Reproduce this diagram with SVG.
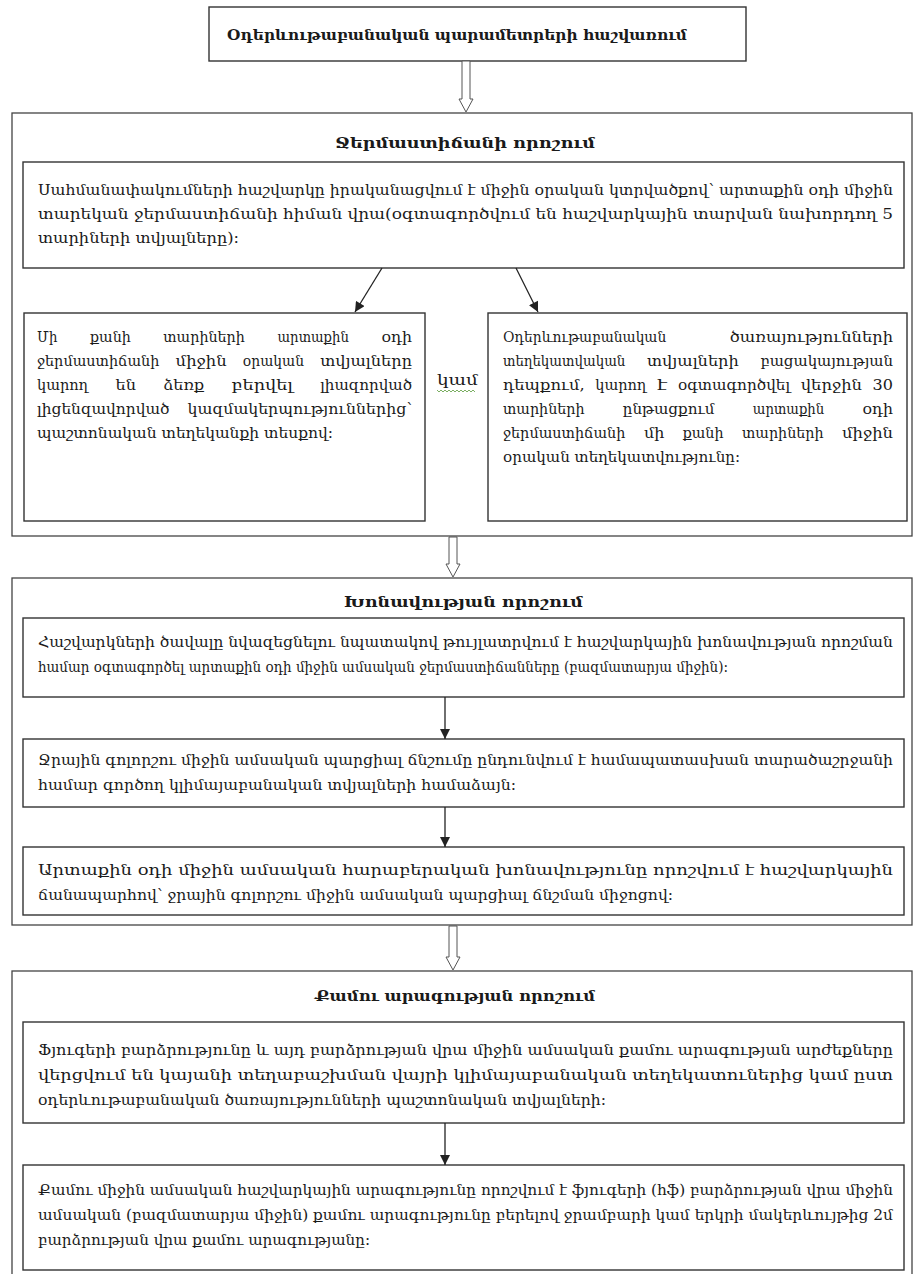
<svg xmlns="http://www.w3.org/2000/svg" width="914" height="1274" viewBox="0 0 914 1274">
<defs>
<style>
.box{fill:#fff;stroke:#333;stroke-width:1.4}
.outer{fill:none;stroke:#444;stroke-width:1.3}
.t{font-family:'DejaVu Serif','DejaVu Sans',serif;font-size:15px;fill:#1a1a1a}
.h{font-weight:bold;font-size:15.5px}
.hollow{fill:#fff;stroke:#555;stroke-width:1}
.ln{stroke:#222;stroke-width:1.3;fill:none;marker-end:url(#ah)}
</style>
<marker id="ah" viewBox="0 0 10 10" refX="10" refY="5" markerWidth="11" markerHeight="10" orient="auto" markerUnits="userSpaceOnUse">
<path d="M0,0 L10,5 L0,10 z" fill="#222"/>
</marker>
</defs>
<rect width="914" height="1274" fill="#fff"/>

<g id="title">
<rect class="box" x="209" y="7" width="537" height="54"/>
<text class="t h" x="227" y="40" textLength="460" lengthAdjust="spacingAndGlyphs">Օդերևութաբանական պարամետրերի հաշվառում</text>
</g>

<g id="section-temperature">
<rect class="outer" x="12" y="113" width="900" height="423"/>
<text class="t h" x="335" y="148" textLength="260" lengthAdjust="spacingAndGlyphs">Ջերմաստիճանի որոշում</text>
</g>

<g id="temp-main">
<rect class="box" x="23" y="162" width="881" height="106"/>
<text class="t" x="38" y="195" textLength="855" lengthAdjust="spacingAndGlyphs">Սահմանափակումների հաշվարկը իրականացվում է միջին օրական կտրվածքով՝ արտաքին օդի միջին</text>
<text class="t" x="38" y="219" textLength="855" lengthAdjust="spacingAndGlyphs">տարեկան ջերմաստիճանի հիման վրա(օգտագործվում են հաշվարկային տարվան նախորդող 5</text>
<text class="t" x="38" y="243" textLength="201" lengthAdjust="spacingAndGlyphs">տարիների տվյալները):</text>
</g>

<g id="temp-left">
<rect class="box" x="24" y="313" width="401" height="208"/>
<text class="t" x="37" y="342" textLength="20.4" lengthAdjust="spacingAndGlyphs">Մի</text>
<text class="t" x="90" y="342" textLength="40.8" lengthAdjust="spacingAndGlyphs">քանի</text>
<text class="t" x="163.3" y="342" textLength="81.6" lengthAdjust="spacingAndGlyphs">տարիների</text>
<text class="t" x="277.5" y="342" textLength="71.4" lengthAdjust="spacingAndGlyphs">արտաքին</text>
<text class="t" x="381.4" y="342" textLength="30.6" lengthAdjust="spacingAndGlyphs">օդի</text>
<text class="t" x="37" y="366" textLength="122.4" lengthAdjust="spacingAndGlyphs">ջերմաստիճանի</text>
<text class="t" x="175.6" y="366" textLength="51" lengthAdjust="spacingAndGlyphs">միջին</text>
<text class="t" x="242.8" y="366" textLength="61.2" lengthAdjust="spacingAndGlyphs">օրական</text>
<text class="t" x="320.2" y="366" textLength="91.8" lengthAdjust="spacingAndGlyphs">տվյալները</text>
<text class="t" x="37" y="390" textLength="51" lengthAdjust="spacingAndGlyphs">կարող</text>
<text class="t" x="115.5" y="390" textLength="20.4" lengthAdjust="spacingAndGlyphs">են</text>
<text class="t" x="163.3" y="390" textLength="40.8" lengthAdjust="spacingAndGlyphs">ձեռք</text>
<text class="t" x="231.6" y="390" textLength="61.2" lengthAdjust="spacingAndGlyphs">բերվել</text>
<text class="t" x="320.2" y="390" textLength="91.8" lengthAdjust="spacingAndGlyphs">լիազորված</text>
<text class="t" x="37" y="414" textLength="132.6" lengthAdjust="spacingAndGlyphs">լիցենզավորված</text>
<text class="t" x="187.6" y="414" textLength="224.4" lengthAdjust="spacingAndGlyphs">կազմակերպություններից՝</text>
<text class="t" x="37" y="438" textLength="296" lengthAdjust="spacingAndGlyphs">պաշտոնական տեղեկանքի տեսքով:</text>
</g>

<g id="or-label">
<text class="t" x="437" y="385" textLength="41" lengthAdjust="spacingAndGlyphs">կամ</text>
<path d="M437,390 l2,2 l2,-2 l2,2 l2,-2 l2,2 l2,-2 l2,2 l2,-2 l2,2 l2,-2 l2,2 l2,-2 l2,2 l2,-2 l2,2 l2,-2 l2,2 l2,-2 l2,2" fill="none" stroke="#5b9b3b" stroke-width="0.8"/>
</g>

<g id="temp-right">
<rect class="box" x="488" y="313" width="419" height="208"/>
<text class="t" x="503" y="342" textLength="163.2" lengthAdjust="spacingAndGlyphs">Օդերևութաբանական</text>
<text class="t" x="729.8" y="342" textLength="163.2" lengthAdjust="spacingAndGlyphs">ծառայությունների</text>
<text class="t" x="503" y="366" textLength="122.4" lengthAdjust="spacingAndGlyphs">տեղեկատվական</text>
<text class="t" x="647" y="366" textLength="91.8" lengthAdjust="spacingAndGlyphs">տվյալների</text>
<text class="t" x="760.4" y="366" textLength="132.6" lengthAdjust="spacingAndGlyphs">բացակայության</text>
<text class="t" x="503" y="390" textLength="81.6" lengthAdjust="spacingAndGlyphs">դեպքում,</text>
<text class="t" x="595.3" y="390" textLength="51" lengthAdjust="spacingAndGlyphs">կարող</text>
<text class="t" x="657" y="390" textLength="10.2" lengthAdjust="spacingAndGlyphs">է</text>
<text class="t" x="677.9" y="390" textLength="112.2" lengthAdjust="spacingAndGlyphs">օգտագործվել</text>
<text class="t" x="800.8" y="390" textLength="61.2" lengthAdjust="spacingAndGlyphs">վերջին</text>
<text class="t" x="872.6" y="390" textLength="20.4" lengthAdjust="spacingAndGlyphs">30</text>
<text class="t" x="503" y="414" textLength="81.6" lengthAdjust="spacingAndGlyphs">տարիների</text>
<text class="t" x="622.8" y="414" textLength="91.8" lengthAdjust="spacingAndGlyphs">ընթացքում</text>
<text class="t" x="752.8" y="414" textLength="71.4" lengthAdjust="spacingAndGlyphs">արտաքին</text>
<text class="t" x="862.4" y="414" textLength="30.6" lengthAdjust="spacingAndGlyphs">օդի</text>
<text class="t" x="503" y="438" textLength="122.4" lengthAdjust="spacingAndGlyphs">ջերմաստիճանի</text>
<text class="t" x="643.9" y="438" textLength="20.4" lengthAdjust="spacingAndGlyphs">մի</text>
<text class="t" x="682.7" y="438" textLength="40.8" lengthAdjust="spacingAndGlyphs">քանի</text>
<text class="t" x="742" y="438" textLength="81.6" lengthAdjust="spacingAndGlyphs">տարիների</text>
<text class="t" x="842" y="438" textLength="51" lengthAdjust="spacingAndGlyphs">միջին</text>
<text class="t" x="503" y="462" textLength="237" lengthAdjust="spacingAndGlyphs">օրական տեղեկատվությունը:</text>
</g>

<g id="section-humidity">
<rect class="outer" x="12" y="578" width="900" height="347"/>
<text class="t h" x="344" y="607" textLength="239" lengthAdjust="spacingAndGlyphs">Խոնավության որոշում</text>
</g>

<g id="hum-1">
<rect class="box" x="23" y="618" width="881" height="79"/>
<text class="t" x="38" y="647" textLength="855" lengthAdjust="spacingAndGlyphs">Հաշվարկների ծավալը նվազեցնելու նպատակով թույլատրվում է հաշվարկային խոնավության որոշման</text>
<text class="t" x="38" y="672" textLength="690" lengthAdjust="spacingAndGlyphs">համար օգտագործել արտաքին օդի միջին ամսական ջերմաստիճանները (բազմատարյա միջին):</text>
</g>

<g id="hum-2">
<rect class="box" x="23" y="739" width="881" height="68"/>
<text class="t" x="38" y="765" textLength="855" lengthAdjust="spacingAndGlyphs">Ջրային գոլորշու միջին ամսական պարցիալ ճնշումը ընդունվում է համապատասխան տարածաշրջանի</text>
<text class="t" x="38" y="790" textLength="478" lengthAdjust="spacingAndGlyphs">համար գործող կլիմայաբանական տվյալների համաձայն:</text>
</g>

<g id="hum-3">
<rect class="box" x="23" y="847" width="881" height="68"/>
<text class="t" x="38" y="875" textLength="855" lengthAdjust="spacingAndGlyphs">Արտաքին օդի միջին ամսական հարաբերական խոնավությունը որոշվում է հաշվարկային</text>
<text class="t" x="38" y="900" textLength="635" lengthAdjust="spacingAndGlyphs">ճանապարհով՝ ջրային գոլորշու միջին ամսական պարցիալ ճնշման միջոցով:</text>
</g>

<g id="section-wind">
<rect class="outer" x="12" y="971" width="900" height="320"/>
<text class="t h" x="315" y="1001" textLength="280" lengthAdjust="spacingAndGlyphs">Քամու արագության որոշում</text>
</g>

<g id="wind-1">
<rect class="box" x="23" y="1022" width="881" height="101"/>
<text class="t" x="38" y="1055" textLength="855" lengthAdjust="spacingAndGlyphs">Ֆյուգերի բարձրությունը և այդ բարձրության վրա միջին ամսական քամու արագության արժեքները</text>
<text class="t" x="38" y="1080" textLength="855" lengthAdjust="spacingAndGlyphs">վերցվում են կայանի տեղաբաշխման վայրի կլիմայաբանական տեղեկատուներից կամ ըստ</text>
<text class="t" x="38" y="1105" textLength="568" lengthAdjust="spacingAndGlyphs">օդերևութաբանական ծառայությունների պաշտոնական տվյալների:</text>
</g>

<g id="wind-2">
<rect class="box" x="23" y="1165" width="881" height="105"/>
<text class="t" x="38" y="1195" textLength="855" lengthAdjust="spacingAndGlyphs">Քամու միջին ամսական հաշվարկային արագությունը որոշվում է ֆյուգերի (hֆ) բարձրության վրա միջին</text>
<text class="t" x="38" y="1220" textLength="855" lengthAdjust="spacingAndGlyphs">ամսական (բազմատարյա միջին) քամու արագությունը բերելով ջրամբարի կամ երկրի մակերևույթից 2մ</text>
<text class="t" x="38" y="1245" textLength="332" lengthAdjust="spacingAndGlyphs">բարձրության վրա քամու արագությանը:</text>
</g>

<g id="connectors">
<polygon class="hollow" points="462,61 470,61 470,99 473,99 466,112 459,99 462,99"/>
<polygon class="hollow" points="449,537 457,537 457,564 460,564 453,577 446,564 449,564"/>
<polygon class="hollow" points="449,926 457,926 457,957 460,957 453,970 446,957 449,957"/>
<line class="ln" x1="382" y1="268" x2="355" y2="312"/>
<line class="ln" x1="516" y1="268" x2="538" y2="312"/>
<line class="ln" x1="445" y1="697" x2="445" y2="739"/>
<line class="ln" x1="445" y1="807" x2="445" y2="847"/>
<line class="ln" x1="445" y1="1123" x2="445" y2="1165"/>
</g>
</svg>
